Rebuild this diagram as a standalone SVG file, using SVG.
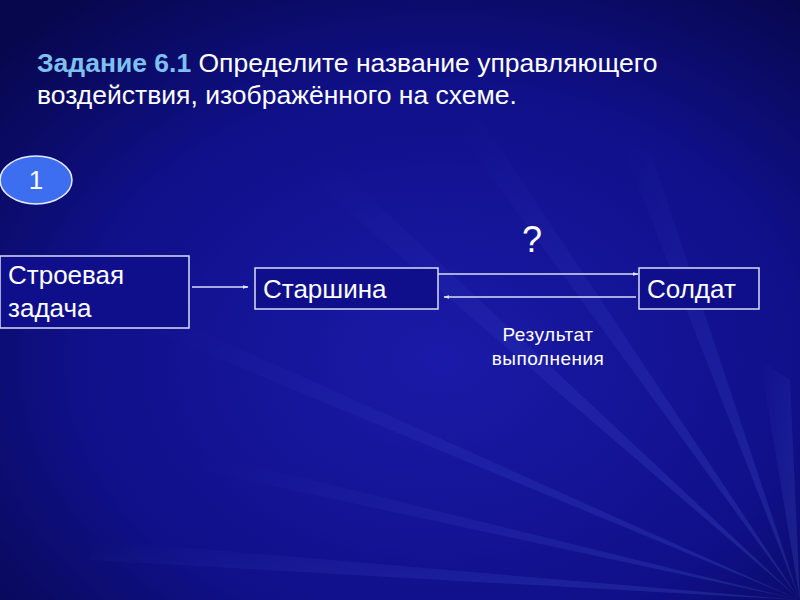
<svg xmlns="http://www.w3.org/2000/svg" width="800" height="600" viewBox="0 0 800 600">
<defs>
<radialGradient id="bg" cx="0.55" cy="0.6" r="0.75">
<stop offset="0" stop-color="#1a1aa8"/>
<stop offset="0.6" stop-color="#10108a"/>
<stop offset="1" stop-color="#07074e"/>
</radialGradient>
<linearGradient id="ray" x1="1" y1="1" x2="0" y2="0">
<stop offset="0" stop-color="#6f8cff" stop-opacity="0.3"/>
<stop offset="1" stop-color="#6f8cff" stop-opacity="0"/>
</linearGradient>
<marker id="ah" viewBox="0 0 10 10" refX="9" refY="5" markerWidth="6" markerHeight="6" orient="auto" markerUnits="userSpaceOnUse">
<path d="M0,2 L10,5 L0,8 z" fill="#e0e6ff"/>
</marker>
<style>
.box{fill:#0f0f8c;stroke:#d8def5;stroke-width:1.5}
.t{font-family:"Liberation Sans",Arial,sans-serif;fill:#ffffff}
.c{stroke:#d8def5;stroke-width:1.5;fill:none;marker-end:url(#ah)}
</style>
</defs>
<rect width="800" height="600" fill="url(#bg)"/>
<g id="rays" opacity="0.6">
<polygon points="800,600 300,170 330,160" fill="url(#ray)"/>
<polygon points="800,600 150,330 165,315" fill="url(#ray)"/>
<polygon points="800,600 450,120 480,118" fill="url(#ray)"/>
<polygon points="800,600 200,470 210,455" fill="url(#ray)"/>
<polygon points="800,600 620,140 650,150" fill="url(#ray)"/>
<polygon points="800,600 90,560 95,540" fill="url(#ray)"/>
<polygon points="800,600 760,360 790,380" fill="url(#ray)"/>
</g>
<g id="title">
<text class="t" x="37" y="72" font-size="26.5"><tspan font-weight="bold" fill="#7fc0ee">Задание 6.1</tspan> Определите название управляющего</text>
<text class="t" x="37" y="104" font-size="26.5">воздействия, изображённого на схеме.</text>
</g>
<g id="badge">
<ellipse cx="36" cy="180" rx="36" ry="24" fill="#3d6ef0" stroke="#e6ecff" stroke-width="1.5"/>
<text class="t" x="36" y="189" font-size="26" text-anchor="middle">1</text>
</g>
<g id="task">
<rect class="box" x="0" y="256" width="189" height="72"/>
<text class="t" x="8" y="284" font-size="26">Строевая</text>
<text class="t" x="8" y="317" font-size="26">задача</text>
</g>
<g id="starshina">
<rect class="box" x="255" y="268" width="183" height="41"/>
<text class="t" x="263" y="298" font-size="26">Старшина</text>
</g>
<g id="soldier">
<rect class="box" x="639" y="268" width="120" height="41"/>
<text class="t" x="647" y="298" font-size="26">Солдат</text>
</g>
<g id="connectors">
<line class="c" x1="192" y1="287" x2="248" y2="287"/>
<line class="c" x1="438" y1="274" x2="638" y2="274"/>
<line class="c" x1="636" y1="297" x2="444" y2="297"/>
</g>
<g id="labels">
<text class="t" x="532" y="252" font-size="36" text-anchor="middle">?</text>
<text class="t" x="548" y="341" font-size="19" text-anchor="middle" letter-spacing="0.5">Результат</text>
<text class="t" x="548" y="365" font-size="19" text-anchor="middle" letter-spacing="0.5">выполнения</text>
</g>
</svg>
